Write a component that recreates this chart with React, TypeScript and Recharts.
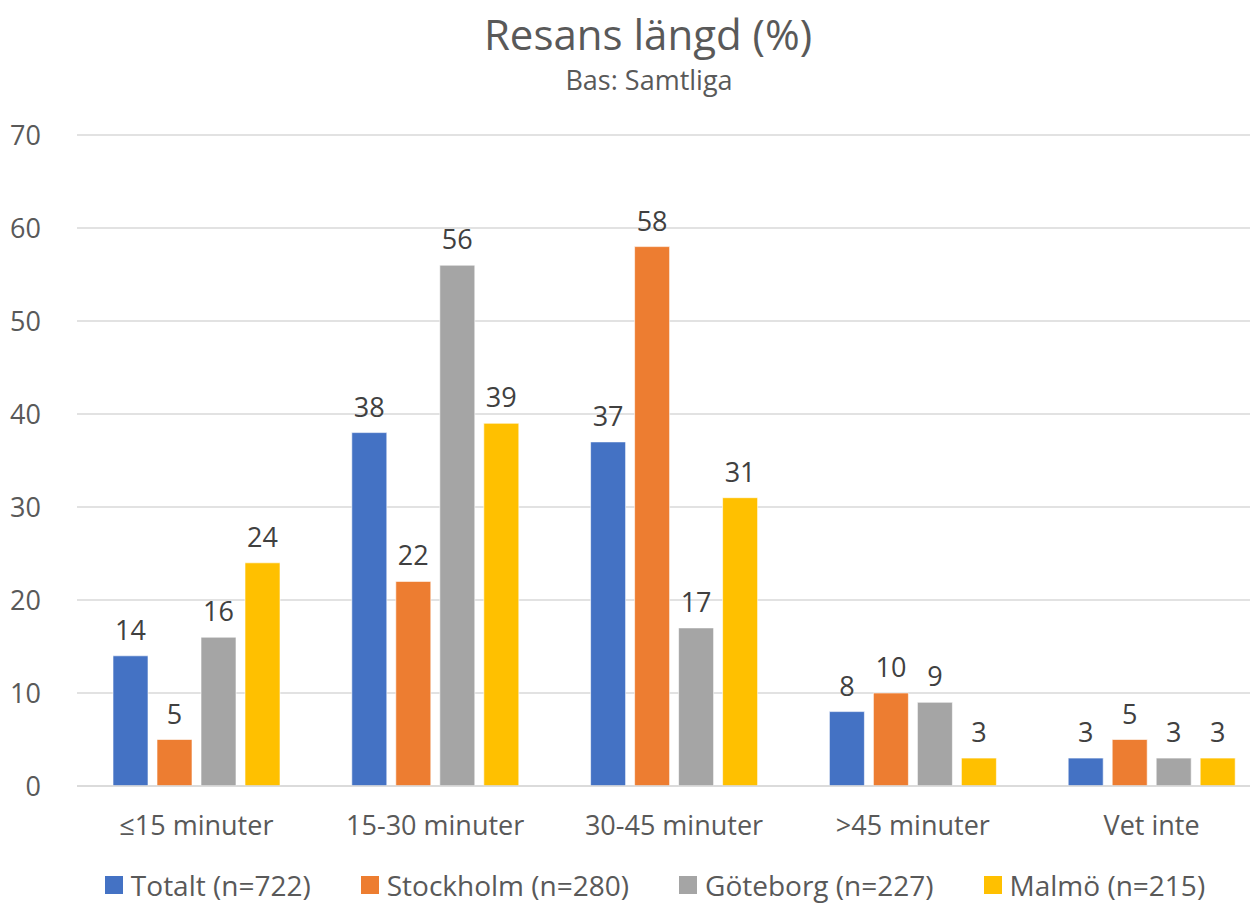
import { Bar, BarChart, CartesianGrid, LabelList, Legend, XAxis, YAxis } from 'recharts';

const categories = ['≤15 minuter', '15-30 minuter', '30-45 minuter', '>45 minuter', 'Vet inte'];
const totalt = [14, 38, 37, 8, 3];
const stockholm = [5, 22, 58, 10, 5];
const goteborg = [16, 56, 17, 9, 3];
const malmo = [24, 39, 31, 3, 3];
const yTicks = [0, 10, 20, 30, 40, 50, 60, 70];

const seriesNames = ['Totalt (n=722)', 'Stockholm (n=280)', 'Göteborg (n=227)', 'Malmö (n=215)'];
const colors = ['#4472C4', '#ED7D31', '#A5A5A5', '#FFC000'];

const data = categories.map((name, i) => ({
  name,
  s0: totalt[i],
  s1: stockholm[i],
  s2: goteborg[i],
  s3: malmo[i],
}));

const font = '"Open Sans", sans-serif';
const textColor = '#595959';
const fs = 27;

// legend in series order (recharts sorts its own payload by name)
const renderLegend = () => (
  <div style={{ display: 'flex', justifyContent: 'center', alignItems: 'center', gap: 50 }}>
    {seriesNames.map((n, i) => (
      <div key={n} style={{ display: 'flex', alignItems: 'center', gap: 8 }}>
        <span style={{ width: 18, height: 18, background: colors[i], display: 'inline-block' }} />
        <span style={{ color: textColor, fontSize: 28, fontFamily: font }}>{n}</span>
      </div>
    ))}
  </div>
);

export default function App() {
  return (
    <div
      style={{
        position: 'absolute',
        left: 0,
        top: 0,
        width: 1250,
        height: 905,
        overflow: 'hidden',
        background: '#fff',
        fontFamily: font,
      }}
    >
      <div
        style={{
          position: 'absolute',
          left: 0,
          width: 1296,
          top: 5,
          textAlign: 'center',
          fontSize: 42,
          color: textColor,
        }}
      >
        Resans längd (%)
      </div>
      <div
        style={{
          position: 'absolute',
          left: 0,
          width: 1298,
          top: 61,
          textAlign: 'center',
          fontSize: fs,
          color: textColor,
        }}
      >
        Bas: Samtliga
      </div>
      <div style={{ position: 'absolute', left: 0, top: 0 }}>
        <BarChart
          width={1280}
          height={905}
          data={data}
          margin={{ top: 135, right: 9, left: 0, bottom: 0 }}
          barSize={35}
          barGap={9}
        >
          <CartesianGrid vertical={false} stroke="#D9D9D9" strokeWidth={1.5} />
          <XAxis
            dataKey="name"
            height={80}
            tickLine={false}
            axisLine={{ stroke: '#D9D9D9', strokeWidth: 1.5 }}
            tickMargin={24}
            tick={{ fontSize: fs, fill: textColor, fontFamily: font }}
            interval={0}
          />
          <YAxis
            width={77}
            domain={[0, 70]}
            ticks={yTicks}
            axisLine={false}
            tickLine={false}
            tickMargin={30}
            tick={{ fontSize: fs, fill: textColor, fontFamily: font }}
          />
          <Legend
            verticalAlign="bottom"
            content={renderLegend}
            wrapperStyle={{ height: 39, bottom: 0, left: 0, width: 1310 }}
          />
          {seriesNames.map((n, i) => (
            <Bar
              key={n}
              dataKey={`s${i}`}
              name={n}
              fill={colors[i]}
              stroke="#ffffff"
              strokeOpacity={0.6}
              isAnimationActive={false}
            >
              <LabelList
                dataKey={`s${i}`}
                position="top"
                offset={16}
                style={{ fontSize: fs, fill: '#404040', fontFamily: font }}
              />
            </Bar>
          ))}
        </BarChart>
      </div>
    </div>
  );
}
